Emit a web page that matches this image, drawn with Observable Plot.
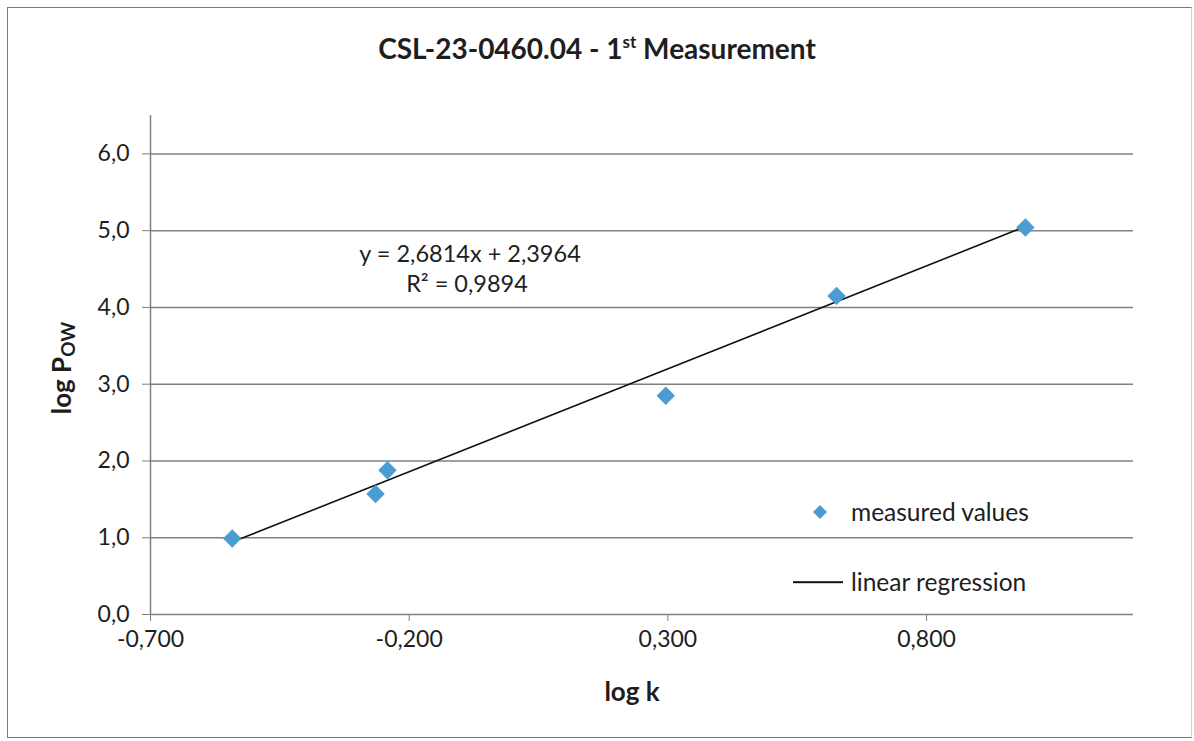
<!DOCTYPE html>
<html><head><meta charset="utf-8">
<script src="https://cdn.jsdelivr.net/npm/d3@7"></script>
<script src="https://cdn.jsdelivr.net/npm/@observablehq/plot@0.6"></script>
<style>
body{margin:0;background:#fff;}
#wrap{position:relative;width:1194px;height:741px;font-family:Lato,"Open Sans",sans-serif;color:#1e1e1e;overflow:hidden;}
#frame{position:absolute;left:7px;top:7px;width:1185px;height:731px;border:1.5px solid #7a7a7a;border-right-color:#d0d0d0;box-sizing:border-box;pointer-events:none;}
#title{position:absolute;top:0;left:0;width:1194px;height:96px;line-height:96px;text-align:center;font-weight:bold;font-size:28px;}
#title sup{font-size:17px;vertical-align:11px;line-height:0;}
#plot{position:absolute;left:0;top:100px;}
.ann{position:absolute;font-size:23.5px;white-space:nowrap;line-height:1;transform:translate(-50%,-50%);}
.leg{position:absolute;font-size:24.5px;white-space:nowrap;line-height:1;transform:translateY(-50%);}
</style></head>
<body>
<div id="wrap">
  <div id="title">CSL-23-0460.04 - 1<sup>st</sup> Measurement</div>
  <div id="plot"></div>
  <div class="ann" id="eq1" style="left:470px;top:254px;"></div>
  <div class="ann" id="eq2" style="left:467px;top:284px;"></div>
  <div class="leg" style="left:812px;top:512px;"><svg width="16" height="16" style="display:block"><path d="M8,1L15,8L8,15L1,8Z" fill="#4b9cd3"/></svg></div>
  <div class="leg" id="leg1" style="left:851px;top:512px;"></div>
  <div class="leg" style="left:793px;top:582px;width:50px;height:1.6px;background:#111;"></div>
  <div class="leg" id="leg2" style="left:851px;top:582px;"></div>
  <div id="frame"></div>
</div>
<script>
// data
const logK    = [-0.542, -0.265, -0.242, 0.296, 0.626, 0.991];
const logPow  = [0.99, 1.57, 1.88, 2.85, 4.15, 5.04];
const slope = 2.6814, intercept = 2.3964, r2 = 0.9894;
const xTicks = [-0.7, -0.2, 0.3, 0.8];
const yTicks = [0, 1, 2, 3, 4, 5, 6];
const seriesNames = ["measured values", "linear regression"];
const xLabel = "log k";

const comma = s => s.replace(".", ",");
const pts = logK.map((x, i) => ({x, y: logPow[i]}));
const ext = d3.extent(logK);
const fit = ext.map(x => ({x, y: slope * x + intercept}));

const plot = Plot.plot({
  width: 1194, height: 641,
  marginLeft: 150, marginRight: 61, marginTop: 15, marginBottom: 127,
  style: {fontFamily: "Lato, 'Open Sans', sans-serif", fontSize: "23px", color: "#1e1e1e", background: "transparent"},
  x: {domain: [-0.7, 1.2]},
  y: {domain: [0, 6.5]},
  marks: [
    Plot.ruleY(yTicks, {stroke: "#808080", strokeWidth: 1.5}),
    Plot.ruleX([-0.7], {stroke: "#808080", strokeWidth: 1.5}),
    Plot.axisY({ticks: yTicks, tickFormat: d => comma(d.toFixed(1)), tickSize: 8, tickPadding: 13, label: null, stroke: "#808080", fill: "#1e1e1e"}),
    Plot.axisX({ticks: xTicks, tickFormat: d => comma(d.toFixed(3)), tickSize: 7, tickPadding: 9, label: null, stroke: "#808080", fill: "#1e1e1e"}),
    Plot.line(fit, {x: "x", y: "y", stroke: "#111", strokeWidth: 1.6}),
    Plot.dot(pts, {x: "x", y: "y", symbol: "diamond2", r: 8.3, fill: "#4b9cd3", stroke: "none"})
  ]
});
document.getElementById("plot").appendChild(plot);

const svg = d3.select(plot);
const yl = svg.append("text")
  .attr("transform", "translate(61,268) rotate(-90)")
  .attr("text-anchor", "middle").attr("font-weight", "bold").attr("font-size", 26)
  .attr("dominant-baseline", "central").attr("fill", "#1e1e1e");
yl.append("tspan").text("log P");
yl.append("tspan").attr("font-size", 19).attr("dy", 6).text("OW");
svg.append("text")
  .attr("x", 632).attr("y", 591)
  .attr("text-anchor", "middle").attr("font-weight", "bold").attr("font-size", 26)
  .attr("dominant-baseline", "central").attr("fill", "#1e1e1e").text(xLabel);

document.getElementById("eq1").textContent = `y = ${comma(slope.toFixed(4))}x + ${comma(intercept.toFixed(4))}`;
document.getElementById("eq2").textContent = `R² = ${comma(r2.toFixed(4))}`;
document.getElementById("leg1").textContent = seriesNames[0];
document.getElementById("leg2").textContent = seriesNames[1];
</script>
</body></html>
